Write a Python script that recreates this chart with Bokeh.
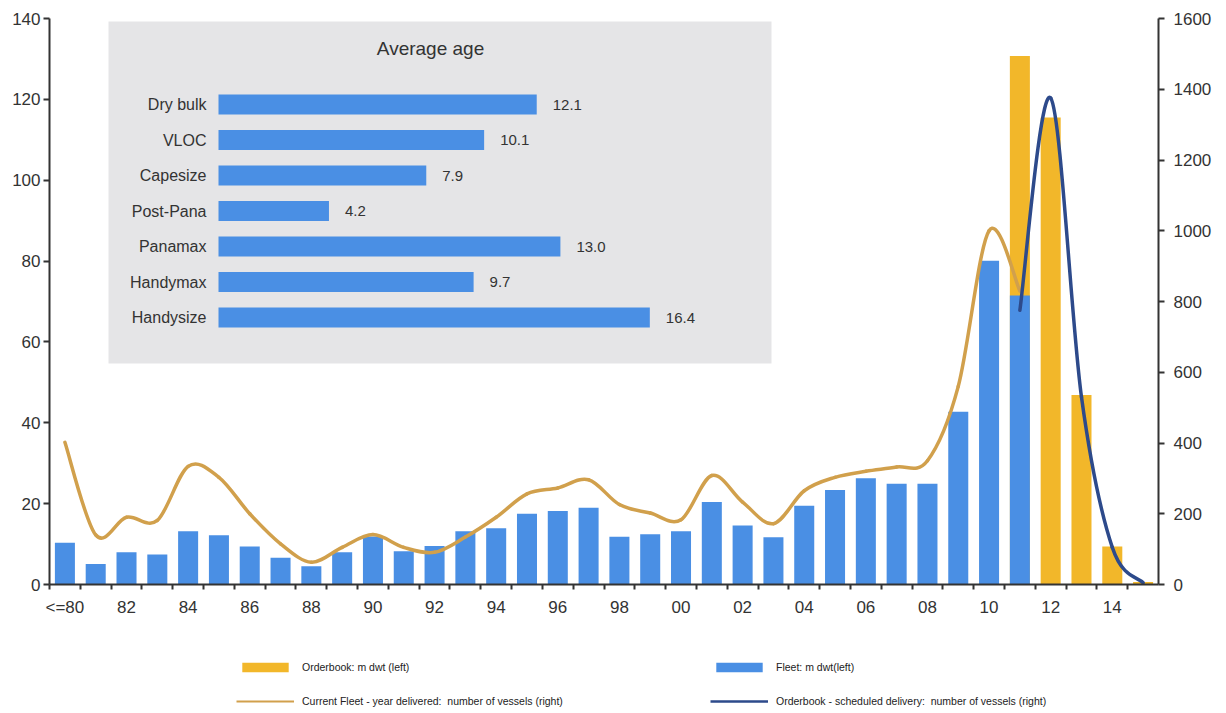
from bokeh.plotting import figure
from bokeh.layouts import column
from bokeh.models import Range1d, LinearAxis, FixedTicker, Legend, LegendItem, ColumnDataSource
from bokeh.core.properties import value
from bokeh.embed import file_html
from bokeh.resources import INLINE

# ---------------- data ----------------
years = ["<=80", "81", "82", "83", "84", "85", "86", "87", "88", "89",
         "90", "91", "92", "93", "94", "95", "96", "97", "98", "99",
         "00", "01", "02", "03", "04", "05", "06", "07", "08", "09",
         "10", "11", "12", "13", "14", "15"]

fleet_years = years[:32]                      # <=80 .. 11
fleet_dwt = [10.3, 5.1, 8.0, 7.4, 13.2, 12.2, 9.4, 6.6, 4.5, 8.0,
             11.9, 8.2, 9.5, 13.2, 13.9, 17.5, 18.2, 19.0, 11.8, 12.4,
             13.2, 20.4, 14.6, 11.7, 19.5, 23.4, 26.3, 24.9, 24.9, 42.7,
             80.1, 71.5]
fleet_vessels = [402, 140, 190, 181, 334, 303, 200, 115, 63, 105,
                 141, 105, 91, 134, 190, 256, 273, 296, 226, 202,
                 183, 308, 233, 172, 265, 303, 320, 332, 350, 560,
                 1000, 830]

order_years = ["11", "12", "13", "14", "15"]
order_dwt = [130.7, 115.5, 46.9, 9.4, 0.6]
order_vessels = [775, 1375, 530, 105, 5]

age_types = ["Dry bulk", "VLOC", "Capesize", "Post-Pana", "Panamax", "Handymax", "Handysize"]
age_values = [12.1, 10.1, 7.9, 4.2, 13.0, 9.7, 16.4]

left_ticks = [0, 20, 40, 60, 80, 100, 120, 140]
right_ticks = [0, 200, 400, 600, 800, 1000, 1200, 1400, 1600]

legend_labels = ["Orderbook: m dwt (left)",
                 "Fleet: m dwt(left)",
                 "Current Fleet - year delivered:  number of vessels (right)",
                 "Orderbook - scheduled delivery:  number of vessels (right)"]

# ---------------- style / layout ----------------
ORANGE = "#f2b72a"
BLUE = "#4a8fe4"
GOLD = "#d1a04c"
DARK = "#2d4a8b"
AXIS = "#333333"
INSET_BG = "#e5e5e7"
FONT = "Liberation Sans"

W, H = 1226, 713
MAIN_H = 630                                 # main chart part; legend strip below
FL, FR, FT, FB = 49, 1158, 18, 584           # frame edges in pixels
AGE_X0, AGE_PX = 218, 26.3                   # inset: pixel of age 0, pixels per year
AGE_Y0, AGE_ROW = 317, 35.5                  # inset: pixel of last row, row pitch

def px_to_agex(px):
    return (px - AGE_X0) / AGE_PX

def py_to_agey(py):
    return (AGE_Y0 - py) / AGE_ROW

idx = {y: i for i, y in enumerate(years)}

p = figure(width=W, height=MAIN_H, output_backend="svg", toolbar_location=None,
           x_range=Range1d(-0.5, len(years) - 0.5), y_range=Range1d(0, 140),
           x_axis_location=None, y_axis_location=None,
           min_border_left=FL, min_border_right=W - FR,
           min_border_top=FT, min_border_bottom=MAIN_H - FB)
p.outline_line_color = None
p.xgrid.visible = False
p.ygrid.visible = False
p.background_fill_color = "white"

p.extra_y_ranges = {
    "right": Range1d(0, 1600),
    "agey": Range1d(py_to_agey(FB), py_to_agey(FT)),
}
p.extra_x_ranges = {"agex": Range1d(px_to_agex(FL), px_to_agex(FR))}

# ---------------- inset: average age ----------------
p.quad(left=[px_to_agex(108)], right=[px_to_agex(771)],
       top=[py_to_agey(21)], bottom=[py_to_agey(363)],
       fill_color=INSET_BG, line_color=None,
       x_range_name="agex", y_range_name="agey")

age_rows = list(range(len(age_types) - 1, -1, -1))
age_src = ColumnDataSource(dict(row=age_rows, val=age_values, name=age_types,
                                lab=[f"{v:.1f}" for v in age_values]))
p.hbar(y="row", left=0, right="val", height=0.56, source=age_src,
       fill_color=BLUE, line_color=None, x_range_name="agex", y_range_name="agey")
p.text(x=0, y="row", text="name", source=age_src, x_offset=-12,
       text_align="right", text_baseline="middle", text_font=value(FONT),
       text_font_size="16px", text_color="#333333",
       x_range_name="agex", y_range_name="agey")
p.text(x="val", y="row", text="lab", source=age_src, x_offset=16,
       text_align="left", text_baseline="middle", text_font=value(FONT),
       text_font_size="15px", text_color="#333333",
       x_range_name="agex", y_range_name="agey")
p.text(x=[px_to_agex(430)], y=[py_to_agey(48)], text=["Average age"],
       text_align="center", text_baseline="middle", text_font=value(FONT),
       text_font_size="19px", text_color="#333333",
       x_range_name="agex", y_range_name="agey")

# ---------------- bars ----------------
p.vbar(x=[idx[y] for y in order_years], top=order_dwt, width=0.65,
       fill_color=ORANGE, line_color=None)
p.vbar(x=[idx[y] for y in fleet_years], top=fleet_dwt, width=0.65,
       fill_color=BLUE, line_color=None)

# ---------------- smoothed lines (Bezier through data points) ----------------
def bezier_source(xs, ys):
    n = len(xs)
    d = dict(x0=[], y0=[], x1=[], y1=[], cx0=[], cy0=[], cx1=[], cy1=[])
    for i in range(n - 1):
        a = max(i - 1, 0)
        b = min(i + 2, n - 1)
        d["x0"].append(xs[i]); d["y0"].append(ys[i])
        d["x1"].append(xs[i + 1]); d["y1"].append(ys[i + 1])
        d["cx0"].append(xs[i] + (xs[i + 1] - xs[a]) / 6)
        d["cy0"].append(ys[i] + (ys[i + 1] - ys[a]) / 6)
        d["cx1"].append(xs[i + 1] - (xs[b] - xs[i]) / 6)
        d["cy1"].append(ys[i + 1] - (ys[b] - ys[i]) / 6)
    return ColumnDataSource(d)

p.bezier(x0="x0", y0="y0", x1="x1", y1="y1", cx0="cx0", cy0="cy0", cx1="cx1", cy1="cy1",
         source=bezier_source([idx[y] for y in fleet_years], fleet_vessels),
         line_color=GOLD, line_width=3.5, line_cap="round", y_range_name="right")
p.bezier(x0="x0", y0="y0", x1="x1", y1="y1", cx0="cx0", cy0="cy0", cx1="cx1", cy1="cy1",
         source=bezier_source([idx[y] for y in order_years], order_vessels),
         line_color=DARK, line_width=3.5, line_cap="round", y_range_name="right")

# ---------------- axes ----------------
yl = LinearAxis(ticker=FixedTicker(ticks=left_ticks, minor_ticks=[]))
yr = LinearAxis(y_range_name="right", ticker=FixedTicker(ticks=right_ticks, minor_ticks=[]))
for ax, st in ((yl, 3), (yr, 9)):
    ax.axis_line_color = AXIS
    ax.axis_line_width = 2
    ax.major_tick_line_color = AXIS
    ax.major_tick_line_width = 2
    ax.major_tick_in = 0
    ax.major_tick_out = 6
    ax.minor_tick_line_color = None
    ax.major_label_standoff = st
    ax.major_label_text_font = FONT
    ax.major_label_text_font_size = "17px"
    ax.major_label_text_color = AXIS
p.add_layout(yl, "left")
p.add_layout(yr, "right")

label_pos = list(range(0, len(years) - 1, 2))
boundaries = [i - 0.5 for i in range(len(years))]
xa = LinearAxis(ticker=FixedTicker(ticks=label_pos, minor_ticks=boundaries))
xa.major_label_overrides = {i: years[i] for i in label_pos}
xa.axis_line_color = AXIS
xa.axis_line_width = 2
xa.major_tick_line_color = None
xa.major_tick_in = 0
xa.major_tick_out = 6
xa.minor_tick_line_color = AXIS
xa.minor_tick_line_width = 2
xa.minor_tick_in = 0
xa.minor_tick_out = 5
xa.major_label_standoff = 7
xa.major_label_text_font = FONT
xa.major_label_text_font_size = "17px"
xa.major_label_text_color = AXIS
p.add_layout(xa, "below")

# ---------------- legend strip ----------------
LEG_H = H - MAIN_H
lg = figure(width=W, height=LEG_H, output_backend="svg", toolbar_location=None,
            x_range=Range1d(0, 1), y_range=Range1d(0, 1),
            x_axis_location=None, y_axis_location=None,
            min_border_left=FL, min_border_right=W - FR,
            min_border_top=0, min_border_bottom=0)
lg.outline_line_color = None
lg.xgrid.visible = False
lg.ygrid.visible = False
# key renderers with zero-size marks: only their legend swatches show
k1 = lg.vbar(x=[0.5], top=[0], bottom=[0], width=0, fill_color=ORANGE, line_color=None)
k2 = lg.vbar(x=[0.5], top=[0], bottom=[0], width=0, fill_color=BLUE, line_color=None)
k3 = lg.line(x=[0.5, 0.5], y=[0.5, 0.5], line_color=GOLD, line_width=2)
k4 = lg.line(x=[0.5, 0.5], y=[0.5, 0.5], line_color=DARK, line_width=2.5)

GLYPH_W = 58
legend = Legend(items=[LegendItem(label=t, renderers=[r])
                       for t, r in zip(legend_labels, [k1, k2, k3, k4])],
                location=(236 - FL, 4), orientation="horizontal", ncols=2,
                glyph_width=GLYPH_W, glyph_height=12, label_height=16, label_width=390,
                label_standoff=8, spacing=18, padding=0, margin=0,
                border_line_color=None, background_fill_alpha=0,
                label_text_font=FONT, label_text_font_size="10.5px",
                label_text_color="#222222")
lg.add_layout(legend, "center")

open("out.html", "w").write(file_html(column(p, lg, spacing=0), INLINE))
